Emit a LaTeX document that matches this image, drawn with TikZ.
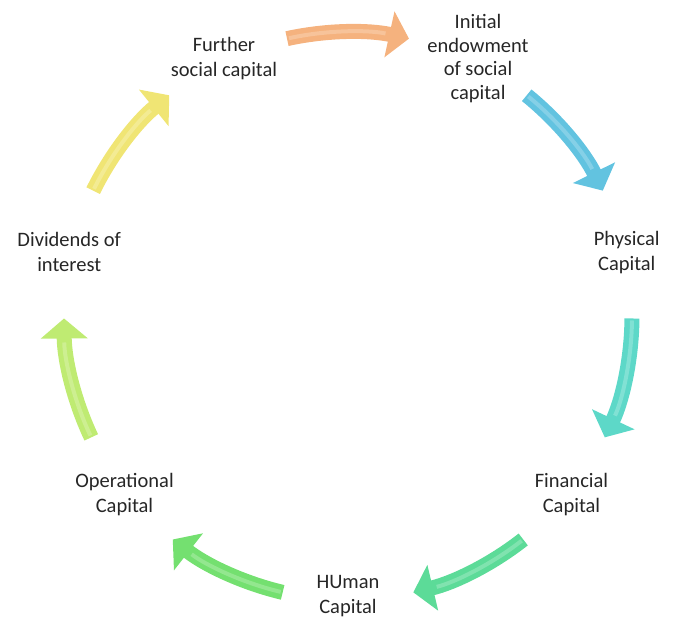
\documentclass[tikz,border=0pt]{standalone}
\usepackage{fontspec}
\setmainfont{Carlito}
\usetikzlibrary{arrows.meta}
\definecolor{textgray}{HTML}{262626}
\definecolor{cycorange}{HTML}{F5B27E}
\definecolor{cycblue}{HTML}{62C3E0}
\definecolor{cycteal}{HTML}{5DD8C8}
\definecolor{cycgreen}{HTML}{5CDB98}
\definecolor{cyclime}{HTML}{74E070}
\definecolor{cycpear}{HTML}{BFEB72}
\definecolor{cycyellow}{HTML}{F0E574}
\tikzstyle{stage}=[align=center,inner sep=0pt,text=textgray,font=\fontsize{20.5}{25}\selectfont]
\tikzstyle{cycarrow}=[line width=15pt,-{Triangle[width=46pt,length=20pt]}]
\tikzstyle{shine}=[line width=4pt,shorten >=24pt,shorten <=2pt]

\begin{document}
\begin{tikzpicture}[x=1pt,y=1pt]
    \useasboundingbox (-348,-305) rectangle (327,316);

    \node[stage] (further)     at (115.7:286) {Further\\social capital};
    \node[stage,font=\fontsize{20.5}{23.5}\selectfont] (initial) at ([xshift=6]64.3:286)
      {Initial\\endowment\\of social\\capital};
    \node[stage] (physical)    at (12.9:286)   {Physical\\Capital};
    \node[stage] (financial)   at (-38.6:286)  {Financial\\Capital};
    \node[stage] (human)       at (-90:280)    {HUman\\Capital};
    \node[stage] (operational) at (-141.4:286) {Operational\\Capital};
    \node[stage] (dividends)   at (167.1:286)  {Dividends of\\interest};

    \coordinate (a1) at (102.4:284);
    \coordinate (a2) at (51:284);
    \coordinate (a3) at (-0.5:284);
    \coordinate (a4) at (-51.9:284);
    \coordinate (a5) at (-103.3:284);
    \coordinate (a6) at (-154.7:284);
    \coordinate (a7) at (153.8:284);

    \draw[cycarrow,draw=cycorange] (a1) arc[start angle=102.4,delta angle=-24.8,radius=284];
    \draw[shine,draw=white!22!cycorange] (a1) arc[start angle=102.4,delta angle=-24.8,radius=284];
    \draw[cycarrow,draw=cycblue] (a2) arc[start angle=51,delta angle=-24.8,radius=284];
    \draw[shine,draw=white!22!cycblue] (a2) arc[start angle=51,delta angle=-24.8,radius=284];
    \draw[cycarrow,draw=cycteal] (a3) arc[start angle=-0.5,delta angle=-24.8,radius=284];
    \draw[shine,draw=white!22!cycteal] (a3) arc[start angle=-0.5,delta angle=-24.8,radius=284];
    \draw[cycarrow,draw=cycgreen] (a4) arc[start angle=-51.9,delta angle=-24.8,radius=284];
    \draw[shine,draw=white!22!cycgreen] (a4) arc[start angle=-51.9,delta angle=-24.8,radius=284];
    \draw[cycarrow,draw=cyclime] (a5) arc[start angle=-103.3,delta angle=-24.8,radius=284];
    \draw[shine,draw=white!22!cyclime] (a5) arc[start angle=-103.3,delta angle=-24.8,radius=284];
    \draw[cycarrow,draw=cycpear] (a6) arc[start angle=-154.7,delta angle=-24.8,radius=284];
    \draw[shine,draw=white!22!cycpear] (a6) arc[start angle=-154.7,delta angle=-24.8,radius=284];
    \draw[cycarrow,draw=cycyellow] (a7) arc[start angle=153.8,delta angle=-24.8,radius=284];
    \draw[shine,draw=white!22!cycyellow] (a7) arc[start angle=153.8,delta angle=-24.8,radius=284];
\end{tikzpicture}
\end{document}
